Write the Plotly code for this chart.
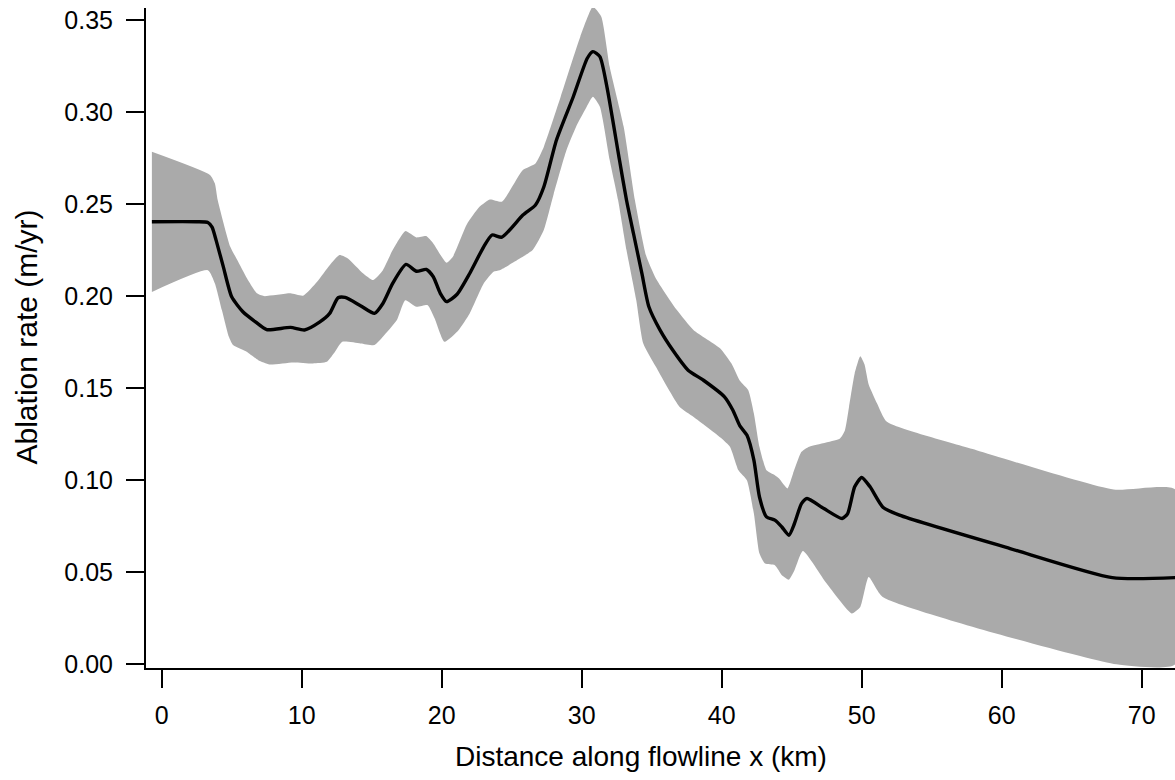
import plotly.graph_objects as go

# Mean ablation rate along the flowline
dist_km = [-0.7, 2.5, 3.3, 3.6, 3.9, 4.4, 5.0, 5.8, 6.7, 7.5, 9.2, 10.2, 11.3, 12.0,
           12.6, 13.1, 14.2, 15.2, 15.8, 16.5, 17.45, 18.2, 18.9, 19.4, 19.9, 20.35,
           21.1, 22.0, 23.0, 23.6, 24.3, 25.8, 26.7, 27.3, 28.2, 29.4, 30.4, 30.8,
           31.3, 31.8, 32.7, 33.2, 33.7, 34.3, 34.8, 35.6, 36.5, 37.6, 38.7, 40.2,
           40.8, 41.3, 41.8, 42.3, 42.7, 43.2, 43.8, 44.3, 44.8, 45.2, 45.7, 46.1,
           47.3, 48.6, 49.0, 49.5, 50.0, 50.6, 51.5, 52.7, 60.6, 67.9, 72.4]
ablation = [0.2404, 0.2404, 0.2400, 0.2375, 0.2300, 0.2160, 0.1996, 0.1915, 0.1860,
            0.1818, 0.1830, 0.1816, 0.1860, 0.1906, 0.1991, 0.1993, 0.1948, 0.1906,
            0.1960, 0.2069, 0.2172, 0.2135, 0.2145, 0.2105, 0.2015, 0.1970, 0.2010,
            0.2123, 0.2268, 0.2332, 0.2320, 0.2440, 0.2495, 0.2594, 0.2848, 0.3083,
            0.3292, 0.3328, 0.3301, 0.3138, 0.2739, 0.2522, 0.2340, 0.2123, 0.1942,
            0.1815, 0.1707, 0.1598, 0.1543, 0.1453, 0.1380, 0.1295, 0.1245, 0.1109,
            0.0909, 0.0801, 0.0783, 0.0746, 0.0701, 0.0765, 0.0873, 0.0901, 0.0846,
            0.0792, 0.0819, 0.0964, 0.1015, 0.0964, 0.0855, 0.0810, 0.0629, 0.0471,
            0.0471]

# Upper edge of the uncertainty envelope
upper_km = [-0.7, 3.45, 3.8, 4.0, 4.9, 5.4, 6.1, 6.8, 7.3, 9.2, 10.1, 11.1, 12.0, 12.7,
            13.3, 14.4, 15.1, 15.8, 16.5, 17.4, 18.2, 18.9, 19.4, 20.35, 20.8, 21.8,
            22.7, 23.45, 24.3, 25.8, 26.7, 27.3, 28.5, 29.9, 30.8, 31.4, 32.0, 33.0,
            33.8, 34.6, 35.3, 36.8, 38.0, 39.9, 40.7, 41.3, 41.9, 42.3, 42.7, 43.2,
            43.8, 44.1, 44.7, 45.1, 45.7, 46.2, 48.45, 48.8, 49.1, 49.5, 49.9, 50.2,
            50.5, 51.1, 51.8, 58.2, 68.0, 72.4]
upper = [0.2784, 0.2658, 0.2612, 0.2522, 0.2268, 0.2196, 0.2096, 0.2015, 0.2000,
         0.2015, 0.2002, 0.2078, 0.2168, 0.2223, 0.2205, 0.2123, 0.2087, 0.2141,
         0.2250, 0.2353, 0.2319, 0.2326, 0.2286, 0.2181, 0.2214, 0.2390, 0.2485,
         0.2525, 0.2513, 0.2685, 0.2721, 0.2812, 0.3083, 0.3409, 0.3572, 0.3518,
         0.3246, 0.2920, 0.2522, 0.2220, 0.2096, 0.1924, 0.1815, 0.1716, 0.1634,
         0.1540, 0.1489, 0.1362, 0.1181, 0.1054, 0.1027, 0.1009, 0.0955, 0.1036,
         0.1154, 0.1181, 0.1227, 0.1270, 0.1400, 0.1580, 0.1674, 0.1630, 0.1520,
         0.1417, 0.1317, 0.1163, 0.0949, 0.0949]

# Lower edge of the uncertainty envelope
lower_km = [-0.7, 3.3, 3.8, 4.3, 4.8, 5.1, 6.1, 6.9, 7.7, 9.4, 10.8, 11.8, 12.3, 12.9,
            14.2, 15.2, 15.8, 16.8, 17.4, 18.2, 19.0, 19.5, 20.2, 21.2, 22.0, 23.0,
            23.7, 24.15, 25.4, 26.5, 27.3, 28.0, 28.9, 29.6, 30.3, 30.8, 31.3, 32.0,
            32.6, 33.2, 33.9, 34.4, 35.3, 37.0, 38.0, 40.0, 40.6, 41.2, 41.8, 42.3,
            42.7, 43.1, 43.8, 44.3, 44.8, 45.2, 45.8, 47.5, 49.3, 49.9, 50.5, 51.5,
            68.2, 72.4]
lower = [0.2023, 0.2141, 0.2069, 0.1924, 0.1779, 0.1734, 0.1697, 0.1652, 0.1629,
         0.1640, 0.1634, 0.1643, 0.1689, 0.1752, 0.1743, 0.1734, 0.1779, 0.1870,
         0.1978, 0.1942, 0.1951, 0.1879, 0.1752, 0.1815, 0.1906, 0.2069, 0.2133,
         0.2141, 0.2196, 0.2250, 0.2360, 0.2555, 0.2790, 0.2920, 0.3020, 0.3083,
         0.3029, 0.2739, 0.2522, 0.2250, 0.1978, 0.1743, 0.1616, 0.1398, 0.1344,
         0.1227, 0.1181, 0.1054, 0.1000, 0.0819, 0.0602, 0.0547, 0.0538, 0.0484,
         0.0460, 0.0511, 0.0616, 0.0439, 0.0276, 0.0311, 0.0474, 0.0366, 0.0000,
         0.0000]

x_ticks = [0, 10, 20, 30, 40, 50, 60, 70]
y_ticks = [0.00, 0.05, 0.10, 0.15, 0.20, 0.25, 0.30, 0.35]

FONT = "Liberation Sans, Arial, sans-serif"

fig = go.Figure()

# Shaded envelope as a closed polygon: upper edge out, lower edge back
fig.add_trace(go.Scatter(
    x=upper_km + lower_km[::-1],
    y=upper + lower[::-1],
    mode="lines",
    fill="toself",
    fillcolor="#AAAAAA",
    line=dict(width=0, color="#AAAAAA", shape="spline", smoothing=0.5),
    hoverinfo="skip",
    showlegend=False,
))

fig.add_trace(go.Scatter(
    x=dist_km,
    y=ablation,
    mode="lines",
    line=dict(color="black", width=3.4, shape="spline", smoothing=0.6),
    showlegend=False,
))

axis_common = dict(
    showgrid=False,
    zeroline=False,
    showline=True,
    linecolor="black",
    linewidth=2,
    ticks="outside",
    ticklen=18,
    tickwidth=2,
    tickcolor="black",
    tickfont=dict(family=FONT, size=25, color="black"),
    automargin=False,
)

fig.update_xaxes(
    range=[-1.12, 72.38],
    tickvals=x_ticks,
    ticktext=[str(v) for v in x_ticks],
    ticklabelstandoff=6,
    **axis_common,
)
fig.update_yaxes(
    range=[-0.0020, 0.3565],
    tickvals=y_ticks,
    ticktext=[f"{v:.2f}" for v in y_ticks],
    ticklabelstandoff=8,
    **axis_common,
)

# Axis titles
fig.add_annotation(
    text="Distance along flowline x (km)",
    xref="paper", yref="paper", x=0.481, y=-0.1348,
    xanchor="center", yanchor="middle", showarrow=False,
    font=dict(family=FONT, size=28, color="black"),
)
fig.add_annotation(
    text="Ablation rate (m/yr)",
    xref="paper", yref="paper", x=-0.1166, y=0.5008,
    xanchor="center", yanchor="middle", showarrow=False, textangle=-90,
    font=dict(family=FONT, size=30, color="black"),
)

fig.update_layout(
    width=1175,
    height=780,
    margin=dict(l=146, r=0, t=8, b=112, pad=0),
    paper_bgcolor="white",
    plot_bgcolor="white",
    font=dict(family=FONT, color="black"),
)

fig.write_html("out.html")
